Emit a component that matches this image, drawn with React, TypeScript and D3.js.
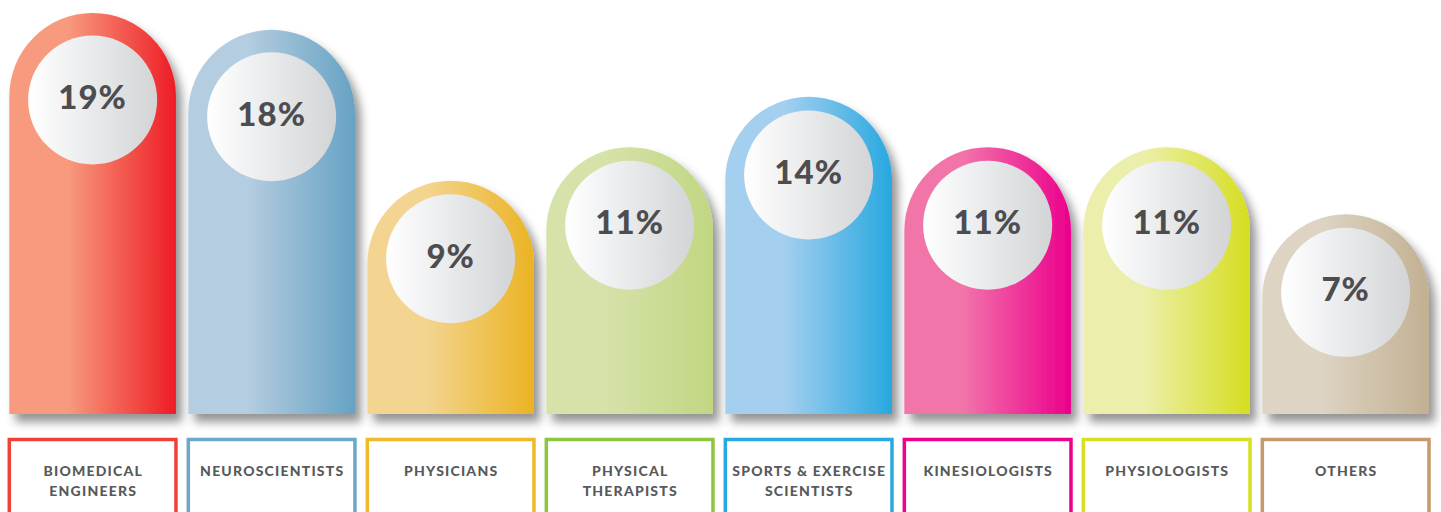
import React from "react";
import * as d3 from "d3";

const categories: string[][] = [
  ["BIOMEDICAL", "ENGINEERS"],
  ["NEUROSCIENTISTS"],
  ["PHYSICIANS"],
  ["PHYSICAL", "THERAPISTS"],
  ["SPORTS & EXERCISE", "SCIENTISTS"],
  ["KINESIOLOGISTS"],
  ["PHYSIOLOGISTS"],
  ["OTHERS"],
];
const values: number[] = [19, 18, 9, 11, 14, 11, 11, 7];
const gradLight: string[] = ["#f79a7d", "#b5cde0", "#f3d591", "#d5e2aa", "#a5cfef", "#f274aa", "#ecefac", "#ddd4c4"];
const gradDark: string[] = ["#ee1c25", "#66a2c4", "#ebb322", "#c1d681", "#27a8e0", "#ec008c", "#d6de20", "#c2b092"];
const borderColors: string[] = ["#ef4136", "#6ea8c8", "#f0b92a", "#8dc63f", "#27aae1", "#ec008c", "#d7df23", "#c49a6c"];

const W = 1441;
const H = 512;
const baseY = 414;

export default function App() {
  const x = d3
    .scaleBand<number>()
    .domain(values.map((_, i) => i))
    .range([9.3, 1429])
    .paddingInner(0.069)
    .paddingOuter(0);
  const y = d3.scaleLinear().domain([-4.9, 19]).range([baseY, 13]);
  const bw = x.bandwidth();
  const r = bw / 2;

  const barPath = (i: number) => {
    const x0 = x(i)!;
    const top = y(values[i]);
    const p = d3.path();
    p.moveTo(x0, baseY);
    p.lineTo(x0, top + r);
    p.arc(x0 + r, top + r, r, Math.PI, 0);
    p.lineTo(x0 + bw, baseY);
    p.closePath();
    return p.toString();
  };

  return (
    <svg
      width={W}
      height={H}
      style={{ position: "absolute", left: 0, top: 0, background: "#fff" }}
    >
      <defs>
        <filter id="shadow" x="-20%" y="-20%" width="150%" height="150%">
          <feDropShadow dx="6" dy="8" stdDeviation="5" floodColor="#000" floodOpacity="0.42" />
        </filter>
        {values.map((_, i) => (
          <linearGradient key={i} id={`g${i}`} x1="0" x2="1" y1="0" y2="0">
            <stop offset="0" stopColor={gradLight[i]} />
            <stop offset="0.35" stopColor={gradLight[i]} />
            <stop offset="1" stopColor={gradDark[i]} />
          </linearGradient>
        ))}
        <linearGradient id="circ" x1="0" x2="1" y1="0" y2="0">
          <stop offset="0" stopColor="#ffffff" />
          <stop offset="0.45" stopColor="#ebecee" />
          <stop offset="1" stopColor="#d3d4d6" />
        </linearGradient>
      </defs>
      {values.map((v, i) => {
        const cx = x(i)! + r;
        const top = y(v);
        const cy = top + (baseY - top > 350 ? 87 : 78);
        return (
          <g key={i}>
            <path d={barPath(i)} fill={`url(#g${i})`} filter="url(#shadow)" />
            <circle cx={cx} cy={cy} r={64.5} fill="url(#circ)" />
            <text
              x={cx}
              y={cy}
              dy="0.27em"
              textAnchor="middle"
              fontFamily="Lato, 'Open Sans', sans-serif"
              fontWeight={900}
              fontSize={33}
              fill="#4d4d4f"
              letterSpacing={1}
            >
              {v}%
            </text>
          </g>
        );
      })}
      {categories.map((lines, i) => {
        const x0 = x(i)!;
        return (
          <g key={`b${i}`}>
            <rect
              x={x0}
              y={439.5}
              width={bw}
              height={100}
              fill="#fff"
              stroke={borderColors[i]}
              strokeWidth={3.5}
            />
            {lines.map((l, j) => (
              <text
                key={j}
                x={x0 + r + 0.6}
                y={476 + j * 20}
                textAnchor="middle"
                fontFamily="Lato, 'Open Sans', sans-serif"
                fontWeight={900}
                fontSize={14}
                letterSpacing={1.2}
                fill="#58595b"
              >
                {l}
              </text>
            ))}
          </g>
        );
      })}
    </svg>
  );
}
